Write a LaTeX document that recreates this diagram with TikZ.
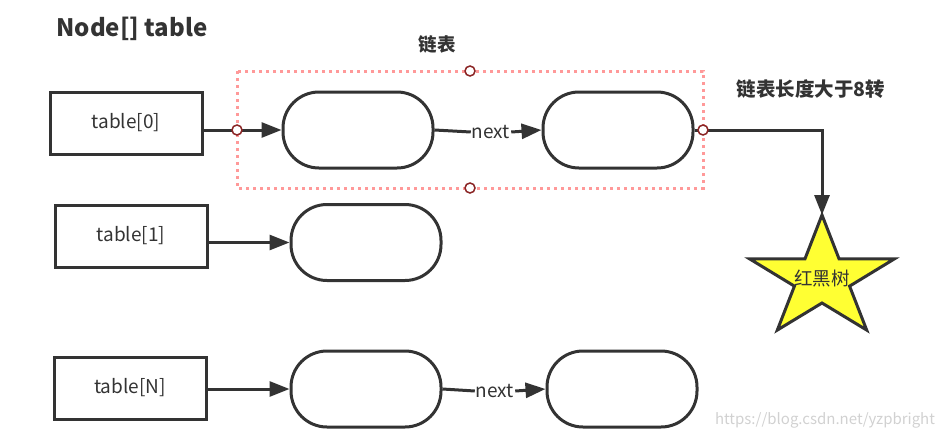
\documentclass[tikz,border=0pt]{standalone}
\usepackage{fontspec}
\setmainfont{Noto Sans CJK SC}
\usetikzlibrary{arrows.meta,positioning}

\definecolor{ink}{HTML}{333333}
\definecolor{grouppink}{HTML}{FF9999}
\definecolor{handlered}{HTML}{8B2525}
\definecolor{staryellow}{HTML}{FFFF33}

\tikzset{
	entry/.style={draw=ink, line width=3pt, minimum width=152pt, minimum height=62pt,
		text=ink, font=\fontsize{19}{22}\selectfont},
	listnode/.style={draw=ink, line width=3pt, rounded corners=36pt,
		minimum width=150pt, minimum height=76pt},
	link/.style={draw=ink, line width=3pt, -{Triangle[length=20pt,width=15pt]}},
	nextlabel/.style={text=ink, inner sep=1pt, font=\fontsize{19}{22}\selectfont},
	handle/.style={circle, draw=handlered, fill=white, line width=1.5pt, inner sep=0pt, minimum size=10pt},
}

\begin{document}
\begin{tikzpicture}[x=1pt, y=-1pt]
	\useasboundingbox (0,0) rectangle (939,439);
	
	% titles
	\node[text=ink, font=\bfseries\fontsize{24}{28}\selectfont] (title) at (132,29) {Node[] table};
	\node[text=ink, font=\bfseries\fontsize{18.5}{21}\selectfont] (listtitle) at (437,44) {链表};
	\node[text=ink, font=\bfseries\fontsize{19.5}{22}\selectfont] (treetitle) at (811,89) {链表长度大于8转};
	
	% highlighted list
	\draw[grouppink, line width=3pt, dash pattern=on 3pt off 4pt] (237,71) rectangle (703,188);
	
	% table entries
	\node[entry] (t0) at (126,123) {table[0]};
	\node[entry] (t1) at (131,236) {table[1]};
	\node[entry] (tN) at (130,388) {table[N]};
	
	% list nodes
	\node[listnode] (a0) at (358,130) {};
	\node[listnode] (b0) at (618,130) {};
	\node[listnode] (a1) at (366,242.5) {};
	\node[listnode] (aN) at (366,389) {};
	\node[listnode] (bN) at (622,389) {};
	
	% next labels
	\node[nextlabel] (n0) at (491,132) {next};
	\node[nextlabel] (nN) at (495,391) {next};
	
	% red-black tree star
	\coordinate (rbt) at (822,278.6);
	\coordinate (rbttop) at (822,215);
	\draw[ink, fill=staryellow, line width=3pt, line join=miter]
		(rbt) +(90:76pt and 63.6pt) -- +(126:29pt and 24.4pt)
		-- +(162:76pt and 63.6pt) -- +(198:29pt and 24.4pt)
		-- +(234:76pt and 63.6pt) -- +(270:29pt and 24.4pt)
		-- +(306:76pt and 63.6pt) -- +(342:29pt and 24.4pt)
		-- +(18:76pt and 63.6pt) -- +(54:29pt and 24.4pt) -- cycle;
	\node[text=ink, font=\fontsize{18.5}{21}\selectfont] (rbtlabel) at (822,279) {红黑树};
	
	% links
	\draw[link] (t0.east |- a0) -- (a0.west);
	\draw[link] (t1.east |- a1) -- (a1.west);
	\draw[link] (tN.east |- aN) -- (aN.west);
	\draw[ink, line width=3pt] (a0.east) -- (n0.west);
	\draw[link] (n0.east) -- (b0.west);
	\draw[ink, line width=3pt] (aN.east) -- (nN.west);
	\draw[link] (nN.east) -- (bN.west);
	\draw[link] (b0.east) -| (rbttop);
	
	% selection handles
	\node[handle] (hleft) at (237,130) {};
	\node[handle] (htop) at (470,71) {};
	\node[handle] (hbottom) at (470,188) {};
	\node[handle] (hright) at (703,130) {};
	
	% watermark
	\node[text=black!18, font=\fontsize{15}{17}\selectfont] (mark) at (825,420) {https://blog.csdn.net/yzpbright};
	
\end{tikzpicture}
\end{document}
